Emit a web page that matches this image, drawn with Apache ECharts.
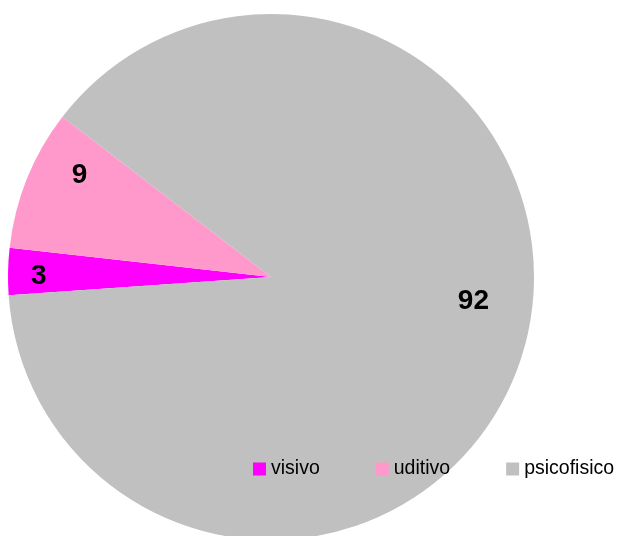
<!DOCTYPE html>
<html>
<head>
<meta charset="utf-8">
<script src="https://cdn.jsdelivr.net/npm/echarts@6/dist/echarts.min.js"></script>
<style>
html,body{margin:0;padding:0;background:#fff;}
#chart{width:619px;height:536px;}
</style>
</head>
<body>
<div id="chart"></div>
<script>
const categories = ['visivo', 'uditivo', 'psicofisico'];
const values = [3, 9, 92];
const colors = ['#FF00FF', '#FF99CC', '#C0C0C0'];

const chart = echarts.init(document.getElementById('chart'), null, {renderer: 'canvas'});
const data = categories.map((c, i) => ({name: c, value: values[i], itemStyle: {color: colors[i]}}));
const R = 263;
// label nudges (Excel "best fit" placement)
const nudge = [[-3, 4], [21, -16], [-17, -42]];
const option = {
  animation: false,
  backgroundColor: '#ffffff',
  legend: {
    data: categories,
    left: 253,
    top: 459,
    width: 420,
    padding: 0,
    itemWidth: 13,
    itemHeight: 13,
    itemGap: 56,
    icon: 'rect',
    textStyle: {fontFamily: 'Liberation Sans, Arial, sans-serif', fontSize: 19.5, color: '#000'}
  },
  series: [
    {
      type: 'pie',
      center: [271, 277],
      radius: [0, R],
      startAngle: 184,
      clockwise: true,
      silent: true,
      label: {show: false},
      labelLine: {show: false},
      data: data
    },
    {
      type: 'pie',
      center: [271, 277],
      radius: [R * 0.72, R],
      startAngle: 184,
      clockwise: true,
      silent: true,
      legendHoverLink: false,
      itemStyle: {color: 'transparent'},
      label: {
        show: true,
        position: 'inside',
        formatter: '{c}',
        fontFamily: 'Liberation Sans, Arial, sans-serif',
        fontWeight: 'bold',
        fontSize: 28,
        color: '#000'
      },
      labelLayout: function (p) {
        const n = nudge[p.dataIndex] || [0, 0];
        return {dx: n[0], dy: n[1]};
      },
      labelLine: {show: false},
      data: categories.map((c, i) => ({name: c + '_lbl', value: values[i]}))
    }
  ]
};
chart.setOption(option);
</script>
</body>
</html>
